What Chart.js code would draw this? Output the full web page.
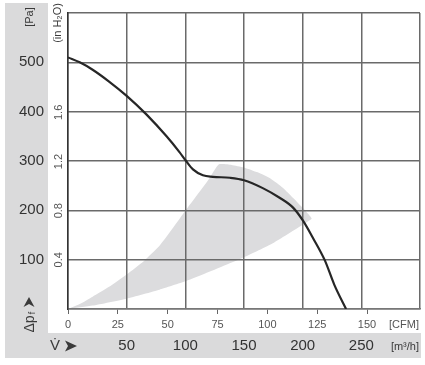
<!DOCTYPE html>
<html>
<head>
<meta charset="utf-8">
<script src="https://cdn.jsdelivr.net/npm/chart.js@4.4.1/dist/chart.umd.min.js"></script>
<style>
  body { margin: 0; background: #fff; }
  #fanChart { display: block; }
</style>
</head>
<body>
<canvas id="fanChart" width="425" height="365"></canvas>
<script>
// fan curve: air flow in m3/h against static pressure in Pa
const flowM3h = [0, 10, 21, 35, 50, 67, 84, 95, 100, 106.5, 115, 123.5, 138, 150, 166, 180, 192, 200, 209, 219, 227, 237];
const pressurePa = [510, 500, 485, 461, 432, 394, 350, 318, 302, 283, 271, 268, 266, 261, 245, 226, 205, 180, 143, 98, 49, 0];

// grey operating zone, outline walked round from the origin
const zoneFlow = [0, 10, 21, 35, 50, 65, 78, 90, 100, 110, 120, 128.4,
                  139.5, 149.7, 161.7, 172.8, 183, 192.4, 200, 206, 207.7,
                  200, 175, 150, 121, 100, 78, 50, 21, 0];
const zonePa = [0, 10, 25, 45, 70, 98, 128, 166, 199, 231, 263, 293,
                292, 287, 277, 264, 246, 224, 205, 189, 183,
                171, 134, 105, 76, 56, 39, 21, 7, 0];

const paTicks = [100, 200, 300, 400, 500];
const inH2OTicks = [0.4, 0.8, 1.2, 1.6];
const cfmTicks = [0, 25, 50, 75, 100, 125, 150];
const m3hTicks = [50, 100, 150, 200, 250];

const PA_PER_INH2O = 249.09;
const M3H_PER_CFM = 1.699;
const MAX_FLOW = 300;
const MAX_PA = 600;

const FONT = '"Liberation Sans", Arial, "DejaVu Sans", sans-serif';
const gridColor = '#6a6a6a';

function toPoints(xs, ys) {
  return xs.map((x, i) => ({x: x, y: ys[i]}));
}

const panelPlugin = {
  id: 'panelPlugin',
  beforeDraw(chart) {
    const ctx = chart.ctx;
    ctx.save();
    ctx.fillStyle = '#dadadb';
    ctx.fillRect(5, 3, 43, 355);
    ctx.fillRect(5, 333, 416, 25);
    ctx.restore();
  },
  afterDraw(chart) {
    const ctx = chart.ctx;
    ctx.save();
    ctx.fillStyle = '#3a3a3a';
    ctx.textBaseline = 'middle';

    function rotText(txt, x, y, size) {
      ctx.save();
      ctx.translate(x, y);
      ctx.rotate(-Math.PI / 2);
      ctx.font = size + 'px ' + FONT;
      ctx.textAlign = 'center';
      ctx.fillText(txt, 0, 0);
      ctx.restore();
    }
    rotText('[Pa]', 30, 17, 11);
    rotText('(in H\u2082O)', 58, 23, 11);

    // Δp with subscript f, turned on its side
    ctx.save();
    ctx.translate(30, 322);
    ctx.rotate(-Math.PI / 2);
    ctx.textAlign = 'center';
    ctx.font = '14px ' + FONT;
    ctx.fillText('\u0394p', -2, 0);
    ctx.font = '9px ' + FONT;
    ctx.fillText('f', 9, 3);
    ctx.restore();

    // arrow heads
    ctx.beginPath();
    ctx.moveTo(29, 297); ctx.lineTo(34.5, 307); ctx.lineTo(29, 304); ctx.lineTo(23.5, 307);
    ctx.closePath();
    ctx.fill();
    ctx.beginPath();
    ctx.moveTo(77, 346); ctx.lineTo(65, 340.5); ctx.lineTo(68, 346); ctx.lineTo(65, 351.5);
    ctx.closePath();
    ctx.fill();

    ctx.font = '15px ' + FONT;
    ctx.textAlign = 'center';
    ctx.fillText('V\u0307', 55, 346);

    ctx.font = '11px ' + FONT;
    ctx.textAlign = 'right';
    ctx.fillStyle = '#555';
    ctx.fillText('[CFM]', 419, 325);
    ctx.fillStyle = '#3a3a3a';
    ctx.fillText('[m\u00b3/h]', 419, 347);
    ctx.restore();
  }
};

new Chart(document.getElementById('fanChart'), {
  type: 'line',
  data: {
    datasets: [
      {
        data: toPoints(flowM3h, pressurePa),
        borderColor: '#262626',
        borderWidth: 2.2,
        pointRadius: 0,
        cubicInterpolationMode: 'monotone',
        fill: false
      },
      {
        data: toPoints(zoneFlow, zonePa),
        borderWidth: 0,
        borderColor: 'rgba(0,0,0,0)',
        backgroundColor: '#dcdcde',
        pointRadius: 0,
        tension: 0.15,
        fill: 'shape'
      }
    ]
  },
  options: {
    responsive: false,
    animation: false,
    layout: { padding: { top: 3, right: 5, left: 0, bottom: 0 } },
    plugins: {
      legend: { display: false },
      tooltip: { enabled: false },
      filler: { drawTime: 'beforeDraw' }
    },
    scales: {
      x: {
        type: 'linear',
        position: 'bottom',
        weight: 1,
        min: 0,
        max: MAX_FLOW,
        afterFit: (s) => { s.height = 32; },
        grid: { color: gridColor, lineWidth: 1.5, drawTicks: false },
        border: { display: false },
        ticks: {
          stepSize: 50,
          autoSkip: false,
          maxRotation: 0,
          padding: 4,
          color: '#333',
          font: { family: FONT, size: 15 },
          callback: (v) => m3hTicks.includes(v) ? String(v) : ''
        }
      },
      xCfm: {
        type: 'linear',
        position: 'bottom',
        weight: 0,
        min: 0,
        max: MAX_FLOW / M3H_PER_CFM,
        afterFit: (s) => { s.height = 24; },
        afterBuildTicks: (s) => { s.ticks = cfmTicks.map(v => ({value: v})); },
        grid: { drawOnChartArea: false, drawTicks: true, tickLength: 5, color: '#666', lineWidth: 1 },
        border: { display: true, color: '#777', width: 1.5 },
        ticks: {
          autoSkip: false,
          maxRotation: 0,
          padding: 4,
          color: '#555',
          font: { family: FONT, size: 11 }
        }
      },
      y: {
        type: 'linear',
        position: 'left',
        weight: 1,
        min: 0,
        max: MAX_PA,
        afterFit: (s) => { s.width = 48; },
        grid: { color: gridColor, lineWidth: 1.5, drawTicks: false },
        border: { display: false },
        ticks: {
          stepSize: 100,
          padding: 4,
          color: '#333',
          font: { family: FONT, size: 15 },
          callback: (v) => paTicks.includes(v) ? String(v) : ''
        }
      },
      yIn: {
        type: 'linear',
        position: 'left',
        weight: 0,
        min: 0,
        max: MAX_PA / PA_PER_INH2O,
        afterFit: (s) => { s.width = 20; },
        afterBuildTicks: (s) => { s.ticks = inH2OTicks.map(v => ({value: v})); },
        grid: { drawOnChartArea: false, drawTicks: false },
        border: { display: true, color: '#333', width: 1.5 },
        ticks: {
          minRotation: 90,
          maxRotation: 90,
          crossAlign: 'center',
          autoSkip: false,
          padding: 1,
          color: '#555',
          font: { family: FONT, size: 11 },
          callback: (v) => v.toFixed(1)
        }
      }
    }
  },
  plugins: [panelPlugin]
});
</script>
</body>
</html>
